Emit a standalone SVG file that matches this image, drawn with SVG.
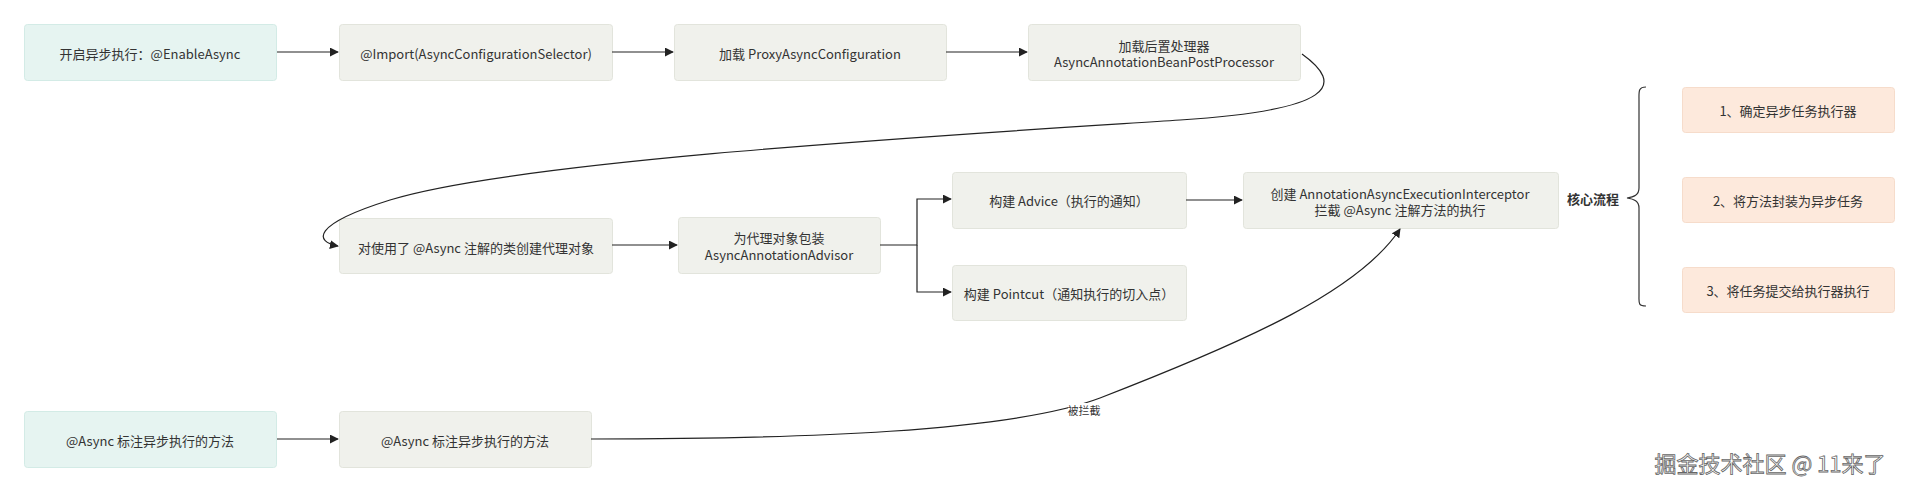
<svg xmlns="http://www.w3.org/2000/svg" width="1919" height="492" viewBox="0 0 1919 492">
<style>
text{font-family:"Noto Sans CJK SC","Noto Sans",sans-serif;font-size:13px;fill:#333;text-anchor:middle;dominant-baseline:central}
.t{fill:#e6f4f1;stroke:#d3ebe6}
.g{fill:#f0f1ec;stroke:#e2e4dc}
.o{fill:#fde9dc;stroke:#f6dccb}
.e{fill:none;stroke:#222;stroke-width:1.2}
</style>
<defs><marker id="a" viewBox="0 0 10 10" refX="9" refY="5" markerWidth="9" markerHeight="9" markerUnits="userSpaceOnUse" orient="auto"><path d="M0,0L10,5L0,10z" fill="#222"/></marker></defs>
<rect width="1919" height="492" fill="#fff"/>
<g id="n1"><rect class="t" x="24.5" y="24.5" width="252" height="56" rx="3"/><text x="150" y="53">开启异步执行：@EnableAsync</text></g>
<g id="n2"><rect class="g" x="339.5" y="24.5" width="273" height="56" rx="3"/><text x="476" y="53">@Import(AsyncConfigurationSelector)</text></g>
<g id="n3"><rect class="g" x="674.5" y="24.5" width="272" height="56" rx="3"/><text x="810" y="53">加载 ProxyAsyncConfiguration</text></g>
<g id="n4"><rect class="g" x="1028.5" y="24.5" width="272" height="56" rx="3"/><text x="1164" y="45">加载后置处理器</text><text x="1164" y="61">AsyncAnnotationBeanPostProcessor</text></g>
<g id="n5"><rect class="g" x="339.5" y="218.5" width="273" height="55" rx="3"/><text x="476" y="247">对使用了 @Async 注解的类创建代理对象</text></g>
<g id="n6"><rect class="g" x="678.5" y="217.5" width="202" height="56" rx="3"/><text x="779" y="237">为代理对象包装</text><text x="779" y="254">AsyncAnnotationAdvisor</text></g>
<g id="n7"><rect class="g" x="952.5" y="172.5" width="234" height="56" rx="3"/><text x="1069" y="200">构建 Advice（执行的通知）</text></g>
<g id="n8"><rect class="g" x="952.5" y="265.5" width="234" height="55" rx="3"/><text x="1069" y="293">构建 Pointcut（通知执行的切入点）</text></g>
<g id="n9"><rect class="g" x="1243.5" y="172.5" width="315" height="56" rx="3"/><text x="1400" y="193">创建 AnnotationAsyncExecutionInterceptor</text><text x="1400" y="209">拦截 @Async 注解方法的执行</text></g>
<g id="n10"><text x="1593" y="198" style="font-weight:bold">核心流程</text><path d="M1646,87 C1638,87 1639,92 1639,100 L1639,188 C1639,195 1634,197 1627,198 C1634,199 1639,201 1639,208 L1639,296 C1639,303 1638,306 1646,306" fill="none" stroke="#333" stroke-width="1.2"/></g>
<g id="n11"><rect class="o" x="1682.5" y="87.5" width="212" height="45" rx="3"/><text x="1788" y="110">1、确定异步任务执行器</text></g>
<g id="n12"><rect class="o" x="1682.5" y="177.5" width="212" height="45" rx="3"/><text x="1788" y="200">2、将方法封装为异步任务</text></g>
<g id="n13"><rect class="o" x="1682.5" y="267.5" width="212" height="45" rx="3"/><text x="1788" y="290">3、将任务提交给执行器执行</text></g>
<g id="n14"><rect class="t" x="24.5" y="411.5" width="252" height="56" rx="3"/><text x="150" y="440">@Async 标注异步执行的方法</text></g>
<g id="n15"><rect class="g" x="339.5" y="411.5" width="252" height="56" rx="3"/><text x="465" y="440">@Async 标注异步执行的方法</text></g>
<g id="edges">
<path class="e" d="M277,52H338" marker-end="url(#a)"/>
<path class="e" d="M612,52H673" marker-end="url(#a)"/>
<path class="e" d="M946,52H1027" marker-end="url(#a)"/>
<path class="e" d="M1302,54 C1345,85 1335,110 1180,120 C950,135 520,160 390,200 C310,225 315,242 338,246" marker-end="url(#a)"/>
<path class="e" d="M612,245H677" marker-end="url(#a)"/>
<path class="e" d="M880,245H917V199H951" marker-end="url(#a)"/>
<path class="e" d="M917,245V292H951" marker-end="url(#a)"/>
<path class="e" d="M1186,200H1242" marker-end="url(#a)"/>
<path class="e" d="M277,439H338" marker-end="url(#a)"/>
<path class="e" d="M591,439 C800,439 1010,432 1100,398 C1250,340 1360,290 1400,229" marker-end="url(#a)"/>
<rect x="1068" y="403" width="32" height="14" fill="#fff"/>
<text x="1084" y="410" style="font-size:11px">被拦截</text>
</g>
<text x="1770" y="462" style="font-size:22px;fill:#fff;stroke:#666;stroke-width:0.8">掘金技术社区 @ 11来了</text>
</svg>
